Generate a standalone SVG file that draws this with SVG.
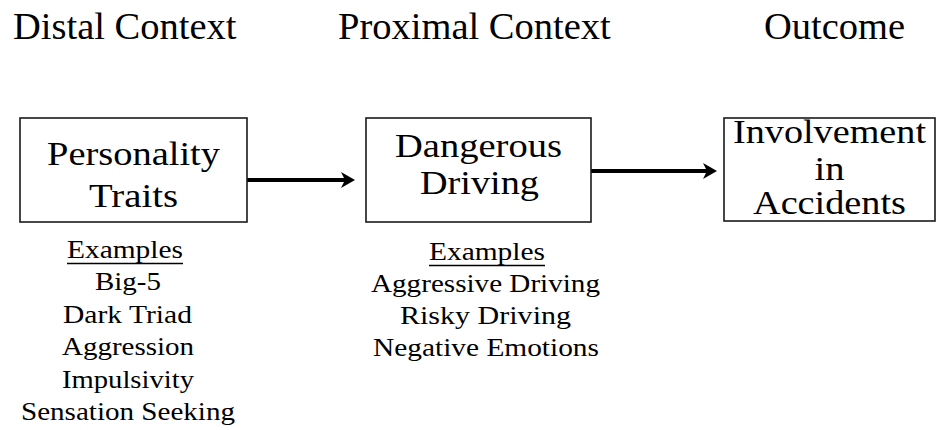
<svg xmlns="http://www.w3.org/2000/svg" width="939" height="430" viewBox="0 0 939 430">
<defs>
<style>
text{font-family:"Liberation Serif","Times New Roman",serif;fill:#000}
.h{font-size:38.5px}
.b{font-size:33px}
.l{font-size:25px}
.box{fill:#fff;stroke:#1a1a1a;stroke-width:1.6}
.conn{stroke:#000;stroke-width:4;fill:none}
.ul{stroke:#000;stroke-width:1.5}
</style>
<marker id="ah" viewBox="0 0 14 16" refX="6" refY="8" markerWidth="14" markerHeight="16" markerUnits="userSpaceOnUse" orient="auto">
<path d="M0,0 L14,8 L0,16 L4,8 Z" fill="#000"/>
</marker>
</defs>
<rect width="939" height="430" fill="#fff"/>
<g id="headers">
<text class="h" x="13" y="39">Distal Context</text>
<text class="h" x="338" y="39">Proximal Context</text>
<text class="h" x="764" y="39">Outcome</text>
</g>
<g id="connectors">
<line class="conn" x1="247" y1="180" x2="347" y2="180" marker-end="url(#ah)"/>
<line class="conn" x1="591" y1="171" x2="709" y2="171" marker-end="url(#ah)"/>
</g>
<g id="personality">
<rect class="box" x="20" y="118" width="227" height="104"/>
<text class="b" x="47" y="165" textLength="173" lengthAdjust="spacingAndGlyphs">Personality</text>
<text class="b" x="89" y="207" textLength="89" lengthAdjust="spacingAndGlyphs">Traits</text>
</g>
<g id="dangerous">
<rect class="box" x="366" y="118" width="225" height="104"/>
<text class="b" x="395" y="157" textLength="167" lengthAdjust="spacingAndGlyphs">Dangerous</text>
<text class="b" x="420" y="194" textLength="119" lengthAdjust="spacingAndGlyphs">Driving</text>
</g>
<g id="involvement">
<rect class="box" x="724" y="118" width="211" height="103"/>
<text class="b" x="733" y="143" textLength="193" lengthAdjust="spacingAndGlyphs">Involvement</text>
<text class="b" x="814.5" y="180" textLength="30" lengthAdjust="spacingAndGlyphs">in</text>
<text class="b" x="753" y="214" textLength="153" lengthAdjust="spacingAndGlyphs">Accidents</text>
</g>
<g id="distal-examples">
<text class="l" x="67" y="258" textLength="116" lengthAdjust="spacingAndGlyphs">Examples</text>
<line class="ul" x1="67" y1="263.5" x2="183" y2="263.5"/>
<text class="l" x="95" y="290.4" textLength="66" lengthAdjust="spacingAndGlyphs">Big-5</text>
<text class="l" x="63" y="322.8" textLength="129" lengthAdjust="spacingAndGlyphs">Dark Triad</text>
<text class="l" x="62" y="355.2" textLength="132" lengthAdjust="spacingAndGlyphs">Aggression</text>
<text class="l" x="62" y="387.6" textLength="132" lengthAdjust="spacingAndGlyphs">Impulsivity</text>
<text class="l" x="21" y="420" textLength="214" lengthAdjust="spacingAndGlyphs">Sensation Seeking</text>
</g>
<g id="proximal-examples">
<text class="l" x="429" y="260" textLength="116" lengthAdjust="spacingAndGlyphs">Examples</text>
<line class="ul" x1="429" y1="265.5" x2="545" y2="265.5"/>
<text class="l" x="371" y="292" textLength="229" lengthAdjust="spacingAndGlyphs">Aggressive Driving</text>
<text class="l" x="400" y="324" textLength="171" lengthAdjust="spacingAndGlyphs">Risky Driving</text>
<text class="l" x="373" y="356" textLength="226" lengthAdjust="spacingAndGlyphs">Negative Emotions</text>
</g>
</svg>
